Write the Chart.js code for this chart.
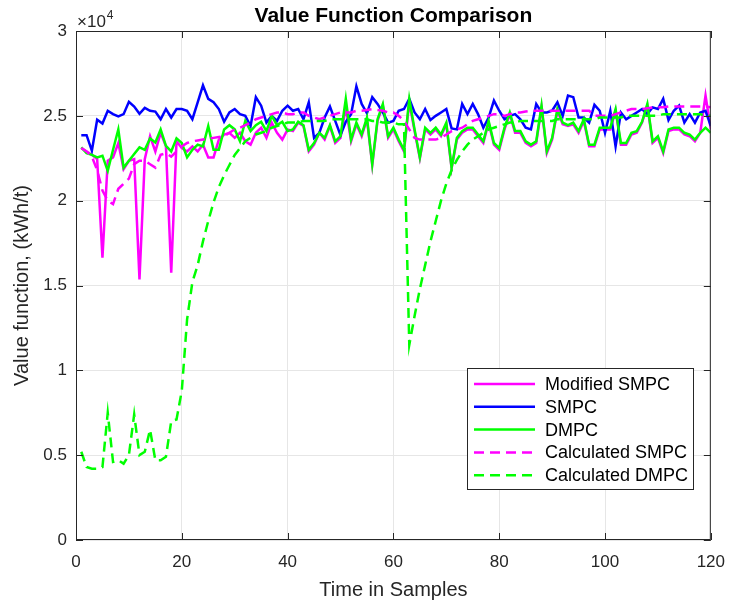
<!DOCTYPE html>
<html>
<head>
<meta charset="utf-8">
<script src="https://cdn.jsdelivr.net/npm/chart.js@4.4.0/dist/chart.umd.min.js"></script>
<style>
  body { margin: 0; background: #fff; }
  #wrap { width: 737px; height: 603px; }
</style>
</head>
<body>
<div id="wrap"><canvas id="myChart" width="737" height="603"></canvas></div>
<script>
// Muestras (eje x)
const samples = Array.from({ length: 120 }, (_, i) => i + 1);

// Valores (kWh/t)
const modSmpc = [
  23100,22900,22700,22450,16640,22350,22550,23400,21850,22350,22450,15360,22450,23800,22900,24000,23200,15750,23500,23100,
  22900,23200,22900,23300,22550,22550,23600,23900,24000,23700,24000,23500,23300,24000,24300,23700,24600,24000,23600,24200,
  24100,24600,24400,22900,23300,24000,23600,24400,23400,23700,25500,23500,24500,23800,24800,22100,24700,25600,23700,24200,
  23500,22900,25800,24100,22500,24200,23900,24200,23800,24500,21900,23600,24000,24200,24200,23800,23400,24600,23300,23000,
  24200,25100,24000,24000,23400,23200,23400,25500,22800,23600,25300,24500,24400,24500,24000,24700,23200,23200,24200,24200,
  24200,25300,23300,23300,23900,24000,24600,25600,23400,23700,22800,24100,24200,24200,23900,23800,23500,24000,26200,24200
];
const smpc = [
  23860,23860,22940,24770,24550,25300,25100,24970,25100,25830,25550,25120,25470,25300,25250,24800,25400,24900,25400,25400,
  25300,24800,25800,26800,26000,25800,25400,24650,25200,25400,25100,25000,24400,26100,25600,24600,25000,24700,25300,25600,
  25300,25400,24800,25800,23700,24000,24900,25550,24700,23860,24650,25100,26740,25700,25150,26100,25700,25200,24600,24700,
  25300,25400,26000,25200,24800,25400,24750,25000,25200,25400,24260,24200,25700,25100,25700,25100,24300,24900,25900,25300,
  24800,25000,25100,24800,24300,24200,25700,25200,25200,25300,25800,25000,26200,26100,24900,24900,24600,25650,25300,24000,
  25300,23200,25200,24800,25000,25200,25400,25100,25500,25400,26000,24750,25300,25600,24600,25100,24600,25200,25300,24400
];
const dmpc = [
  23140,22800,22700,22550,22650,21750,23000,24200,21950,22350,22750,23140,23000,23670,23430,24200,23230,22900,23670,23400,
  22550,23000,23300,23200,24400,23000,23000,24200,24450,24200,23500,24700,24100,24450,24650,24100,25000,24450,24650,24100,
  24200,24650,24450,23000,23400,24000,23700,24450,23500,23800,26000,23600,24600,23900,24900,22150,24800,25700,23800,24300,
  23600,23000,26000,24200,22550,24300,24000,24300,23900,24600,21950,23700,24100,24300,24300,23900,23500,24700,23400,23100,
  24300,25200,24100,24100,23500,23300,23500,25600,22900,23700,25400,24600,24450,24600,24100,24800,23300,23300,24300,24300,
  24300,25400,23400,23400,24000,24100,24650,25700,23500,23800,22900,24200,24300,24300,24000,23900,23600,24000,24300,24000
];
const calcSmpc = [
  23100,22900,22600,21800,20600,20000,19800,20700,21000,21300,22150,22350,22350,22150,21950,22700,22800,22600,22900,23200,
  23400,23500,23550,23600,23650,23700,23750,23800,24000,24200,24300,24450,24600,24800,24900,25000,25100,25200,25200,25100,
  25100,25200,25200,25000,24900,24800,24900,25000,25100,25200,25200,25200,25300,25300,25350,25400,25350,25300,25200,25200,
  25000,24700,24200,23700,23600,23600,23600,23600,23700,23900,24100,24200,24300,24500,24700,24800,24900,25000,25100,25100,
  25000,25100,25200,25200,25250,25300,25300,25300,25300,25300,25300,25300,25300,25300,25300,25300,25300,25000,25000,25000,
  25000,25100,25200,25300,25400,25400,25400,25450,25500,25500,25500,25550,25550,25550,25550,25550,25550,25550,25550,25500
];
const calcDmpc = [
  5200,4300,4200,4200,4300,7500,4600,4700,4500,5000,7400,5000,5200,6500,4700,4700,4900,7000,7100,8800,
  13000,15200,16200,17600,18800,19900,20800,21500,22100,22700,23100,23500,23700,23900,24000,24100,24300,24400,24500,24600,
  24600,24600,24700,24700,24700,24700,24700,24800,24800,24800,24800,24800,24800,24800,24800,24700,24700,24600,24600,24600,
  24500,24500,11500,13200,14800,16200,17600,18800,20000,21000,21800,22400,22900,23300,23600,23800,24000,24200,24300,24400,
  24500,24600,24600,24700,24700,24700,24700,24700,24700,24700,24800,24800,24800,24800,24800,24800,24800,24800,24900,24900,
  24900,24900,24900,25000,25000,25000,25000,25000,25000,25000,25100,25100,25100,25100,25100,25100,25100,25100,25000,25000
];

const seriesLabels = ['Modified SMPC', 'SMPC', 'DMPC', 'Calculated SMPC', 'Calculated DMPC'];
const seriesData = [modSmpc, smpc, dmpc, calcSmpc, calcDmpc];
const seriesColors = ['#ff00ff', '#0000ff', '#00ff00', '#ff00ff', '#00ff00'];
const seriesDashed = [false, false, false, true, true];

const xTicks = [0, 20, 40, 60, 80, 100, 120];
const yTicks = [0, 5000, 10000, 15000, 20000, 25000, 30000];

const FONT = 'Liberation Sans, Arial, Helvetica, sans-serif';
const DASH = [10, 6];

// Textos, marco tipo MATLAB y leyenda interior
const decorPlugin = {
    id: 'decor',
    afterDraw(chart) {
        const ctx = chart.ctx;
        const a = chart.chartArea;
        const xs = chart.scales.x, ys = chart.scales.y;
        ctx.save();

        // Marco
        ctx.strokeStyle = '#262626';
        ctx.lineWidth = 1;
        ctx.strokeRect(a.left + 0.5, a.top + 0.5, a.right - a.left - 1, a.bottom - a.top - 1);

        // Marcas hacia dentro
        ctx.beginPath();
        xTicks.forEach(v => {
            const px = Math.round(xs.getPixelForValue(v)) + 0.5;
            ctx.moveTo(px, a.bottom); ctx.lineTo(px, a.bottom - 7);
            ctx.moveTo(px, a.top); ctx.lineTo(px, a.top + 7);
        });
        yTicks.forEach(v => {
            const py = Math.round(ys.getPixelForValue(v)) + 0.5;
            ctx.moveTo(a.left, py); ctx.lineTo(a.left + 7, py);
            ctx.moveTo(a.right, py); ctx.lineTo(a.right - 7, py);
        });
        ctx.stroke();

        // Titulo
        ctx.fillStyle = '#000';
        ctx.textAlign = 'center';
        ctx.textBaseline = 'alphabetic';
        ctx.font = 'bold 21px ' + FONT;
        ctx.fillText('Value Function Comparison', (a.left + a.right) / 2, 22);

        // Etiquetas de ejes
        ctx.fillStyle = '#262626';
        ctx.font = '20px ' + FONT;
        ctx.fillText('Time in Samples', (a.left + a.right) / 2, 596);
        ctx.save();
        ctx.translate(28, (a.top + a.bottom) / 2);
        ctx.rotate(-Math.PI / 2);
        ctx.fillText('Value function, (kWh/t)', 0, 0);
        ctx.restore();

        // Multiplicador x10^4
        ctx.textAlign = 'left';
        ctx.font = '17px ' + FONT;
        ctx.fillText('\u00d710', a.left + 1, 27);
        const w = ctx.measureText('\u00d710').width;
        ctx.font = '12px ' + FONT;
        ctx.fillText('4', a.left + 1 + w + 1, 19);

        // Leyenda
        const lx = 467, ly = 368, lw = 226, lh = 121;
        ctx.fillStyle = '#fff';
        ctx.fillRect(lx, ly, lw, lh);
        ctx.strokeStyle = '#262626';
        ctx.lineWidth = 1;
        ctx.strokeRect(lx + 0.5, ly + 0.5, lw, lh);
        ctx.font = '18px ' + FONT;
        ctx.textBaseline = 'middle';
        chart.data.datasets.forEach((ds, i) => {
            const yy = ly + 16 + i * 22.8;
            ctx.strokeStyle = ds.borderColor;
            ctx.lineWidth = 2.5;
            ctx.setLineDash(ds.borderDash || []);
            ctx.beginPath();
            ctx.moveTo(lx + 7, yy);
            ctx.lineTo(lx + 68, yy);
            ctx.stroke();
            ctx.setLineDash([]);
            ctx.fillStyle = '#000';
            ctx.fillText(ds.label, lx + 78, yy + 1);
        });
        ctx.restore();
    }
};

const ctx = document.getElementById('myChart').getContext('2d');
window.myChart = new Chart(ctx, {
    type: 'line',
    data: {
        datasets: seriesData.map((vals, i) => ({
            label: seriesLabels[i],
            data: vals.map((v, k) => ({ x: samples[k], y: v })),
            borderColor: seriesColors[i],
            backgroundColor: seriesColors[i],
            borderWidth: 2.5,
            borderDash: seriesDashed[i] ? DASH : [],
            pointRadius: 0,
            tension: 0,
            fill: false,
            order: 4 - i   // el ultimo dibujado queda encima, como en MATLAB
        }))
    },
    options: {
        responsive: false,
        animation: false,
        events: [],
        layout: { padding: { left: 0, top: 31, right: 17, bottom: 0 } },
        plugins: {
            legend: { display: false },
            title: { display: false },
            tooltip: { enabled: false }
        },
        scales: {
            x: {
                type: 'linear',
                min: 0,
                max: 120,
                afterFit: s => { s.height = 63; },
                afterBuildTicks: s => { s.ticks = xTicks.map(v => ({ value: v })); },
                grid: { color: '#e6e6e6', drawTicks: false },
                border: { display: false },
                ticks: {
                    padding: 12,
                    color: '#262626',
                    font: { family: FONT, size: 17 },
                    maxRotation: 0
                }
            },
            y: {
                type: 'linear',
                min: 0,
                max: 30000,
                afterFit: s => { s.width = 76; },
                afterBuildTicks: s => { s.ticks = yTicks.map(v => ({ value: v })); },
                grid: { color: '#e6e6e6', drawTicks: false },
                border: { display: false },
                ticks: {
                    padding: 9,
                    color: '#262626',
                    font: { family: FONT, size: 17 },
                    callback: v => String(v / 10000)
                }
            }
        }
    },
    plugins: [decorPlugin]
});
</script>
</body>
</html>
